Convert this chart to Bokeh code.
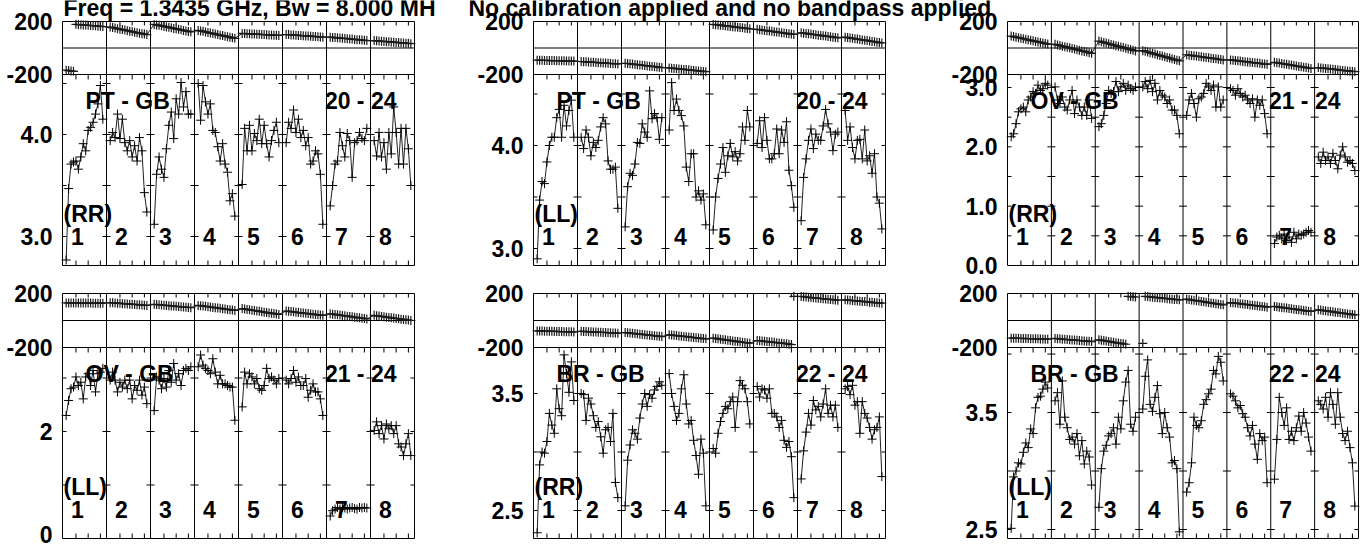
import numpy as np
from bokeh.plotting import figure
from bokeh.models import Range1d
from bokeh.embed import file_html
from bokeh.resources import INLINE
from bokeh.core.properties import value

# ---------------- data ----------------
N_IF = 8
N_CH = 16
if_labels = ["1", "2", "3", "4", "5", "6", "7", "8"]
tick_channels = [5, 10, 15]

title_left = "Freq = 1.3435 GHz, Bw = 8.000 MH"
title_right = "No calibration applied and no bandpass applied"

baselines = ["PT - GB", "PT - GB", "OV - GB", "OV - GB", "BR - GB", "BR - GB"]
antennas = ["20 - 24", "20 - 24", "21 - 24", "21 - 24", "22 - 24", "22 - 24"]
stokes = ["(RR)", "(LL)", "(RR)", "(LL)", "(RR)", "(LL)"]

# phase (degrees), 16 channels per IF
pt_rr_phase = [
    [-167, -170, -173, -176, 179, 177, 176, 174, 173, 171, 170, 168, 167, 165, 164, 162],
    [158, 154, 151, 146, 142, 139, 135, 131, 127, 124, 119, 116, 112, 108, 105, 101],
    [178, 174, 171, 167, 163, 159, 156, 152, 148, 144, 141, 137, 133, 129, 125, 122],
    [133, 129, 126, 121, 117, 113, 110, 105, 101, 97, 94, 89, 85, 82, 77, 73],
    [110, 109, 108, 107, 106, 105, 104, 103, 102, 101, 100, 99, 98, 97, 96, 95],
    [102, 101, 99, 98, 97, 95, 94, 93, 91, 90, 89, 87, 86, 85, 83, 82],
    [82, 80, 79, 77, 75, 73, 72, 70, 68, 67, 65, 63, 62, 60, 58, 56],
    [56, 54, 53, 51, 50, 48, 47, 45, 44, 42, 41, 39, 38, 36, 35, 33],
]
pt_ll_phase = [
    [-92, -93, -93, -94, -94, -95, -95, -95, -96, -96, -97, -97, -98, -98, -99, -99],
    [-102, -103, -104, -106, -107, -108, -109, -111, -112, -113, -114, -115, -117, -118, -119, -120],
    [-115, -117, -119, -121, -124, -126, -128, -130, -132, -135, -137, -139, -141, -143, -146, -148],
    [-150, -152, -154, -156, -158, -160, -162, -163, -165, -167, -169, -171, -173, -175, -177, -179],
    [178, 176, 174, 172, 169, 167, 165, 163, 161, 158, 156, 154, 152, 150, 147, 145],
    [141, 138, 136, 133, 131, 128, 126, 123, 120, 118, 115, 113, 110, 107, 105, 102],
    [115, 112, 110, 107, 105, 102, 100, 97, 95, 92, 90, 87, 85, 82, 80, 77],
    [82, 79, 76, 73, 70, 67, 64, 61, 59, 56, 53, 50, 47, 44, 41, 38],
]
ov_rr_phase = [
    [90, 86, 82, 78, 74, 70, 66, 62, 58, 54, 50, 46, 42, 38, 34, 30],
    [28, 23, 19, 14, 10, 5, 1, -4, -8, -13, -17, -22, -26, -31, -35, -40],
    [52, 47, 42, 37, 32, 27, 22, 17, 13, 8, 3, -2, -7, -12, -17, -22],
    [-20, -25, -30, -35, -40, -46, -51, -56, -61, -66, -71, -76, -82, -87, -92, -97],
    [-51, -54, -56, -59, -61, -64, -66, -69, -72, -74, -77, -79, -82, -85, -87, -90],
    [-90, -92, -94, -97, -99, -101, -103, -105, -108, -110, -112, -114, -116, -119, -121, -123],
    [-108, -111, -114, -117, -120, -123, -126, -129, -133, -136, -139, -142, -145, -148, -151, -154],
    [-148, -150, -152, -154, -156, -158, -160, -162, -165, -167, -169, -171, -173, -175, -177, -179],
]
ov_ll_phase = [
    [130, 130, 130, 130, 130, 129, 129, 129, 129, 129, 129, 128, 128, 128, 128, 128],
    [132, 131, 129, 128, 127, 125, 124, 123, 121, 120, 119, 117, 116, 115, 113, 112],
    [120, 118, 117, 115, 113, 112, 110, 108, 107, 105, 103, 102, 100, 98, 97, 95],
    [112, 110, 107, 105, 102, 100, 97, 95, 92, 90, 87, 85, 82, 80, 77, 75],
    [88, 85, 82, 79, 76, 74, 71, 68, 65, 62, 59, 56, 54, 51, 48, 45],
    [70, 68, 66, 64, 61, 59, 57, 55, 53, 51, 49, 47, 44, 42, 40, 38],
    [50, 47, 45, 42, 40, 37, 35, 32, 30, 27, 25, 22, 20, 17, 15, 12],
    [38, 35, 33, 30, 28, 25, 23, 20, 18, 15, 13, 10, 8, 5, 3, 0],
]
br_rr_phase = [
    [-77, -78, -78, -79, -79, -80, -80, -81, -81, -82, -82, -83, -83, -84, -84, -85],
    [-80, -81, -82, -83, -84, -85, -86, -87, -87, -88, -89, -90, -91, -92, -93, -94],
    [-89, -91, -93, -95, -97, -99, -101, -103, -105, -107, -109, -111, -113, -115, -117, -119],
    [-106, -108, -110, -112, -114, -116, -118, -120, -122, -124, -126, -128, -130, -132, -134, -136],
    [-131, -133, -136, -138, -141, -143, -146, -148, -151, -153, -156, -158, -161, -163, -166, -168],
    [-148, -150, -152, -154, -156, -158, -160, -162, -164, -166, -168, -170, -172, -175, -178, 179],
    [178, 176, 174, 172, 170, 168, 167, 165, 163, 161, 159, 157, 156, 154, 152, 150],
    [153, 151, 150, 148, 146, 145, 143, 141, 140, 138, 136, 135, 133, 131, 130, 128],
]
br_ll_phase = [
    [-131, -131, -132, -132, -133, -133, -134, -134, -135, -135, -136, -136, -137, -137, -138, -138],
    [-133, -135, -136, -138, -139, -141, -142, -144, -145, -147, -148, -150, -151, -153, -154, -156],
    [-143, -146, -149, -152, -155, -158, -161, -164, -167, -170, -173, -176, 179, 177, 176, 174],
    [-170, 179, 177, 175, 173, 171, 169, 167, 166, 164, 162, 160, 158, 156, 155, 153],
    [158, 155, 152, 150, 147, 144, 141, 139, 136, 133, 130, 127, 124, 122, 119, 116],
    [133, 131, 129, 127, 124, 122, 120, 118, 115, 113, 111, 109, 106, 104, 102, 99],
    [104, 102, 99, 97, 94, 92, 89, 87, 84, 82, 79, 77, 74, 72, 69, 67],
    [79, 77, 74, 72, 69, 67, 64, 62, 59, 57, 54, 52, 49, 47, 44, 42],
]

# amplitude (Jy), 16 channels per IF
pt_rr_amp = [
    [2.77, 3.47, 3.71, 3.73, 3.74, 3.66, 3.78, 3.91, 3.84, 4.04, 4.07, 4.12, 4.20, 4.30, 4.48, 4.15],
    [3.94, 4.02, 3.97, 4.20, 3.96, 4.15, 3.92, 3.84, 3.94, 3.78, 3.89, 3.74, 3.97, 3.84, 3.43, 3.24],
    [3.12, 3.61, 3.78, 3.66, 3.58, 3.86, 4.09, 4.22, 3.96, 4.35, 4.20, 4.51, 4.27, 4.42, 4.20, 4.20],
    [4.50, 4.14, 4.48, 4.32, 4.20, 4.30, 4.04, 4.02, 3.88, 3.74, 3.91, 3.71, 3.63, 3.35, 3.42, 3.20],
    [3.51, 4.06, 3.84, 4.09, 3.84, 4.01, 3.94, 4.15, 3.91, 4.09, 3.91, 3.78, 3.94, 4.04, 4.12, 3.92],
    [3.92, 4.12, 4.06, 4.24, 4.02, 4.15, 3.97, 4.04, 3.89, 3.97, 3.71, 3.74, 3.84, 3.81, 3.61, 3.12],
    [3.30, 3.50, 3.71, 3.74, 4.02, 3.89, 3.78, 4.01, 3.94, 3.58, 3.92, 3.94, 4.02, 3.96, 3.94, 4.06],
    [3.94, 3.79, 4.02, 3.78, 3.92, 3.66, 4.02, 3.81, 4.27, 4.02, 3.71, 4.06, 3.71, 4.06, 3.86, 3.50],
]
pt_ll_amp = [
    [2.90, 3.47, 3.65, 3.63, 3.84, 4.00, 4.08, 4.08, 4.27, 4.35, 4.08, 4.39, 4.19, 4.34, 4.44, 4.08],
    [4.08, 3.97, 4.15, 4.08, 3.90, 4.03, 3.98, 4.05, 4.18, 4.27, 4.21, 3.85, 3.77, 3.77, 3.79, 3.39],
    [3.21, 3.60, 3.73, 3.71, 3.82, 4.03, 4.02, 4.21, 4.13, 4.08, 4.53, 4.26, 4.31, 4.27, 4.06, 4.27],
    [4.15, 4.61, 4.34, 4.45, 4.34, 4.29, 4.19, 3.79, 3.65, 3.92, 3.92, 3.50, 3.56, 3.47, 3.53, 3.23],
    [3.18, 3.50, 3.68, 3.82, 3.98, 3.74, 3.90, 4.02, 3.89, 3.94, 3.85, 3.92, 4.18, 4.05, 4.34, 4.18],
    [4.02, 4.24, 3.98, 4.27, 4.05, 3.87, 3.87, 3.92, 4.16, 3.92, 4.15, 4.03, 4.23, 3.76, 3.61, 3.40],
    [3.27, 3.69, 3.87, 4.05, 4.16, 3.97, 4.11, 4.05, 4.05, 4.19, 4.35, 4.21, 4.13, 3.95, 4.11, 4.13],
    [4.34, 4.05, 4.18, 3.98, 3.87, 4.05, 4.06, 3.87, 4.15, 3.85, 3.90, 3.73, 3.92, 3.50, 3.44, 3.19],
]
ov_rr_amp = [
    [2.17, 2.22, 2.39, 2.59, 2.64, 2.67, 2.59, 2.79, 2.84, 2.93, 2.90, 3.04, 2.95, 2.98, 3.07, 3.04],
    [3.01, 2.79, 2.73, 2.84, 2.67, 2.62, 2.79, 2.95, 2.56, 2.79, 2.67, 2.53, 2.67, 2.53, 2.79, 2.48],
    [2.34, 2.39, 2.53, 2.73, 2.95, 2.90, 2.93, 3.10, 2.93, 3.01, 3.07, 2.95, 3.04, 2.98, 2.95, 3.01],
    [3.01, 3.10, 2.98, 3.12, 2.93, 3.07, 2.79, 2.95, 2.87, 2.84, 2.73, 2.79, 2.62, 2.62, 2.53, 2.22],
    [2.53, 2.79, 2.90, 2.73, 2.50, 2.81, 2.84, 2.90, 3.07, 3.01, 2.95, 3.04, 2.67, 3.01, 2.67, 2.79],
    [2.98, 2.95, 2.87, 2.98, 2.90, 2.84, 2.87, 2.79, 2.73, 2.81, 2.50, 2.79, 2.70, 2.79, 2.56, 2.22],
    [0.37, 0.48, 0.51, 0.45, 0.53, 0.42, 0.48, 0.39, 0.56, 0.45, 0.53, 0.51, 0.53, 0.56, 0.59, 0.56],
    [1.83, 1.72, 1.91, 1.77, 1.83, 1.72, 1.89, 1.77, 1.63, 1.86, 2.00, 1.83, 1.74, 1.77, 1.72, 1.60],
]
ov_ll_amp = [
    [2.30, 2.58, 2.80, 2.83, 3.02, 2.86, 2.92, 2.61, 3.02, 3.08, 2.86, 3.14, 2.74, 3.08, 3.11, 3.18],
    [2.96, 3.11, 2.96, 2.74, 2.92, 2.83, 2.96, 2.80, 2.96, 2.61, 2.86, 2.77, 2.96, 2.68, 2.83, 2.52],
    [2.39, 3.02, 2.96, 2.80, 2.99, 2.83, 3.14, 2.92, 3.27, 2.96, 3.08, 2.86, 3.14, 3.18, 3.14, 3.21],
    [3.21, 3.43, 3.24, 3.18, 3.14, 3.08, 3.36, 3.11, 2.89, 3.05, 2.89, 2.89, 2.86, 2.83, 2.83, 2.21],
    [2.46, 3.11, 2.89, 3.08, 3.02, 2.89, 2.99, 2.80, 2.77, 2.86, 3.18, 2.99, 3.02, 2.96, 2.89, 2.99],
    [2.96, 2.89, 2.99, 3.14, 2.92, 3.02, 2.86, 2.86, 2.99, 2.64, 2.77, 2.89, 2.74, 2.74, 2.61, 2.30],
    [0.42, 0.52, 0.55, 0.58, 0.55, 0.58, 0.57, 0.55, 0.57, 0.58, 0.56, 0.55, 0.58, 0.57, 0.58, 0.57],
    [2.02, 2.18, 1.96, 2.11, 1.86, 2.14, 2.05, 2.11, 1.96, 2.11, 1.77, 1.71, 1.55, 1.77, 1.96, 1.55],
]
br_rr_amp = [
    [2.31, 2.89, 3.00, 2.99, 3.09, 3.33, 3.23, 3.16, 3.54, 3.37, 3.31, 3.83, 3.67, 3.51, 3.77, 3.44],
    [3.50, 3.49, 3.27, 3.46, 3.41, 3.31, 3.21, 3.26, 3.13, 2.99, 3.19, 3.21, 3.09, 3.33, 2.74, 2.61],
    [2.54, 2.93, 3.06, 3.19, 3.16, 3.11, 3.29, 3.41, 3.50, 3.39, 3.49, 3.46, 3.53, 3.56, 3.60, 3.57],
    [3.67, 3.50, 3.39, 3.27, 3.33, 3.54, 3.66, 3.41, 3.24, 3.27, 3.10, 2.97, 2.81, 3.11, 2.99, 2.54],
    [3.03, 2.99, 3.16, 3.26, 3.33, 3.39, 3.37, 3.43, 3.47, 3.21, 3.43, 3.61, 3.57, 3.54, 3.43, 3.24],
    [3.56, 3.47, 3.54, 3.53, 3.46, 3.54, 3.33, 3.33, 3.30, 3.21, 3.27, 3.10, 3.04, 3.09, 2.96, 2.61],
    [2.77, 3.01, 3.17, 3.33, 3.23, 3.44, 3.36, 3.39, 3.30, 3.41, 3.54, 3.33, 3.40, 3.30, 3.40, 3.21],
    [3.54, 3.56, 3.49, 3.57, 3.40, 3.43, 3.16, 3.43, 3.33, 3.29, 3.21, 3.11, 3.19, 3.21, 3.30, 2.79],
]
br_ll_amp = [
    [2.51, 2.95, 3.00, 3.07, 3.06, 3.16, 3.24, 3.20, 3.36, 3.32, 3.54, 3.63, 3.64, 3.70, 3.76, 3.71],
    [3.60, 3.67, 3.40, 3.77, 3.46, 3.37, 3.27, 3.29, 3.23, 3.32, 3.13, 3.26, 3.06, 3.17, 3.12, 2.88],
    [2.69, 3.02, 3.17, 3.22, 3.30, 3.32, 3.37, 3.23, 3.46, 3.36, 3.60, 3.76, 3.86, 3.40, 3.34, 3.46],
    [3.53, 3.81, 3.95, 3.57, 3.51, 3.63, 3.73, 3.49, 3.32, 3.50, 3.37, 3.29, 3.07, 3.09, 3.02, 2.48],
    [2.82, 2.90, 3.07, 3.46, 3.39, 3.37, 3.43, 3.57, 3.61, 3.66, 3.70, 3.86, 3.83, 3.98, 3.93, 3.77],
    [3.66, 3.64, 3.60, 3.54, 3.56, 3.49, 3.46, 3.37, 3.30, 3.39, 3.23, 3.10, 3.32, 3.26, 3.29, 2.90],
    [2.93, 3.27, 3.63, 3.50, 3.39, 3.54, 3.27, 3.34, 3.26, 3.37, 3.47, 3.34, 3.50, 3.41, 3.29, 3.17],
    [3.60, 3.57, 3.53, 3.63, 3.46, 3.67, 3.57, 3.40, 3.67, 3.46, 3.32, 3.26, 3.34, 3.20, 3.07, 2.70],
]

phases = [pt_rr_phase, pt_ll_phase, ov_rr_phase, ov_ll_phase, br_rr_phase, br_ll_phase]
amps = [pt_rr_amp, pt_ll_amp, ov_rr_amp, ov_ll_amp, br_rr_amp, br_ll_amp]

# amplitude axis ticks and labels per panel
amp_ticks = [[3.0, 3.5, 4.0, 4.5], [3.0, 3.5, 4.0, 4.5], [0.5, 1.0, 1.5, 2.0, 2.5, 3.0],
             [1.0, 2.0, 3.0], [2.5, 3.0, 3.5], [2.5, 3.0, 3.5, 4.0]]
amp_label_vals = [[4.0, 3.0], [4.0, 3.0], [3.0, 2.0, 1.0, 0.0], [2.0, 0.0], [3.5, 2.5], [3.5, 2.5]]
amp_label_txt = [["4.0", "3.0"], ["4.0", "3.0"], ["3.0", "2.0", "1.0", "0.0"], ["2", "0"],
                 ["3.5", "2.5"], ["3.5", "2.5"]]
phase_label_vals = [200, -200]
phase_label_txt = ["200", "-200"]

# ---------------- layout (pixels in the page) ----------------
W, H = 1366, 549
cols = [(62, 414), (533, 885), (1007, 1358)]
rows = [(21, 74, 265), (293, 347, 538)]
amp_lims = [(2.716, 4.588), (2.835, 4.689), (0.0, 3.219), (0.0, 3.570), (2.261, 3.893), (2.423, 4.056)]

IF_W = 18.0
XSPAN = N_IF * IF_W
FONT = "Liberation Sans"
FS = "23px"
HALF_TXT = 14  # half of a label's line box, px
INK = "black"
LINE = "#222222"

p = figure(width=W, height=H, x_range=Range1d(0, W), y_range=Range1d(0, H),
           x_axis_type=None, y_axis_type=None, toolbar_location=None,
           output_backend="svg", outline_line_color=None,
           min_border_left=0, min_border_right=0, min_border_top=0, min_border_bottom=0)
p.background_fill_color = "white"
p.border_fill_color = "white"

txt = dict(text_font=value(FONT), text_font_style="bold", text_font_size=FS, text_color="black")

for k in range(6):
    r, c = divmod(k, 3)
    L, R = cols[c]
    T, TA, B = rows[r]
    a_lo, a_hi = amp_lims[k]
    xn, an, pn = f"x{k}", f"a{k}", f"p{k}"
    xu = XSPAN / (R - L)
    au = (a_hi - a_lo) / (B - TA)
    pu = 400.0 / (TA - T)
    p.extra_x_ranges[xn] = Range1d(-L * xu, (W - L) * xu)
    p.extra_y_ranges[an] = Range1d(a_lo - (H - B) * au, a_lo + B * au)
    p.extra_y_ranges[pn] = Range1d(-200 - (H - TA) * pu, -200 + TA * pu)
    a_top = a_hi + (TA - T) * au
    kw = dict(x_range_name=xn, y_range_name=an)

    # frame, divider and IF separators
    p.line([0, XSPAN, XSPAN, 0, 0], [a_lo, a_lo, a_top, a_top, a_lo], line_color=INK, line_width=1, **kw)
    p.line([0, XSPAN], [a_hi, a_hi], line_color=INK, line_width=1, **kw)
    p.line([0, XSPAN], [0, 0], line_color=INK, line_width=1, x_range_name=xn, y_range_name=pn)
    sx = [i * IF_W for i in range(1, N_IF)]
    p.segment(x0=sx, y0=[a_lo] * len(sx), x1=sx, y1=[a_top] * len(sx), line_color=INK, line_width=1, **kw)

    # channel ticks
    tx = [i * IF_W + 0.5 + ch for i in range(N_IF) for ch in tick_channels]
    n = len(tx)
    p.segment(x0=tx, y0=[a_lo] * n, x1=tx, y1=[a_lo + 5 * au] * n, line_color=INK, **kw)
    p.segment(x0=tx, y0=[a_hi] * n, x1=tx, y1=[a_hi - 5 * au] * n, line_color=INK, **kw)
    p.segment(x0=tx, y0=[a_top] * n, x1=tx, y1=[a_top - 4 * au] * n, line_color=INK, **kw)

    # amplitude ticks on every vertical line
    x0s, x1s, ys = [], [], []
    for s in range(N_IF + 1):
        xs = s * IF_W
        for tv in amp_ticks[k]:
            x0s.append(xs - (4 * xu if s > 0 else 0))
            x1s.append(xs + (4 * xu if s < N_IF else 0))
            ys.append(tv)
    p.segment(x0=x0s, y0=ys, x1=x1s, y1=ys, line_color=INK, **kw)

    # data
    ph = phases[k]
    am = amps[k]
    xs_all, ph_all, am_line_x, am_line_y, am_all = [], [], [], [], []
    for i in range(N_IF):
        for ch in range(N_CH):
            xx = i * IF_W + 1.5 + ch
            xs_all.append(xx)
            ph_all.append(ph[i][ch])
            am_all.append(am[i][ch])
            am_line_x.append(xx)
            am_line_y.append(am[i][ch])
        am_line_x.append(np.nan)
        am_line_y.append(np.nan)
    plx, ply = [], []
    for j, (xx, yy) in enumerate(zip(xs_all, ph_all)):
        if j > 0 and abs(yy - ph_all[j - 1]) > 180:
            plx.append(np.nan)
            ply.append(np.nan)
        plx.append(xx)
        ply.append(yy)
    p.line(plx, ply, line_color=LINE, line_width=1, x_range_name=xn, y_range_name=pn)
    p.scatter(xs_all, ph_all, marker="cross", size=9, line_color="#1a1a1a", line_width=1.2,
              x_range_name=xn, y_range_name=pn)
    p.line(am_line_x, am_line_y, line_color=LINE, line_width=1, **kw)
    p.scatter(xs_all, am_all, marker="cross", size=9, line_color=INK, line_width=1, **kw)

    # axis labels (a label that would run past the page bottom is nudged up)
    for v, t in zip(amp_label_vals[k], amp_label_txt[k]):
        ypix = B - (v - a_lo) / au
        dy = min(0.0, (H - 1 - HALF_TXT) - ypix)
        p.text(x=[0], y=[v], text=[t], text_align="right", text_baseline="middle",
               x_offset=-10, y_offset=dy, **txt, **kw)
    p.text(x=[0, 0], y=phase_label_vals, text=phase_label_txt, text_align="right",
           text_baseline="middle", x_offset=-10, x_range_name=xn, y_range_name=pn, **txt)

    # panel annotations
    p.text(x=[0], y=[a_hi], text=[baselines[k]], text_align="left", text_baseline="middle",
           x_offset=23, y_offset=26, **txt, **kw)
    p.text(x=[XSPAN], y=[a_hi], text=[antennas[k]], text_align="right", text_baseline="middle",
           x_offset=-18, y_offset=26, **txt, **kw)
    p.text(x=[0], y=[a_lo], text=[stokes[k]], text_align="left", text_baseline="middle",
           x_offset=1, y_offset=-52, **txt, **kw)
    p.text(x=[i * IF_W for i in range(N_IF)], y=[a_lo] * N_IF, text=if_labels, text_align="center",
           text_baseline="middle", x_offset=15, y_offset=-29, **txt, **kw)

# title (its top is cut by the page edge, as in the reference)
p.text(x=[63, 468], y=[H - 7.5] * 2, text=[title_left, title_right],
       text_align="left", text_baseline="alphabetic", **txt)

open("out.html", "w").write(file_html(p, INLINE))
